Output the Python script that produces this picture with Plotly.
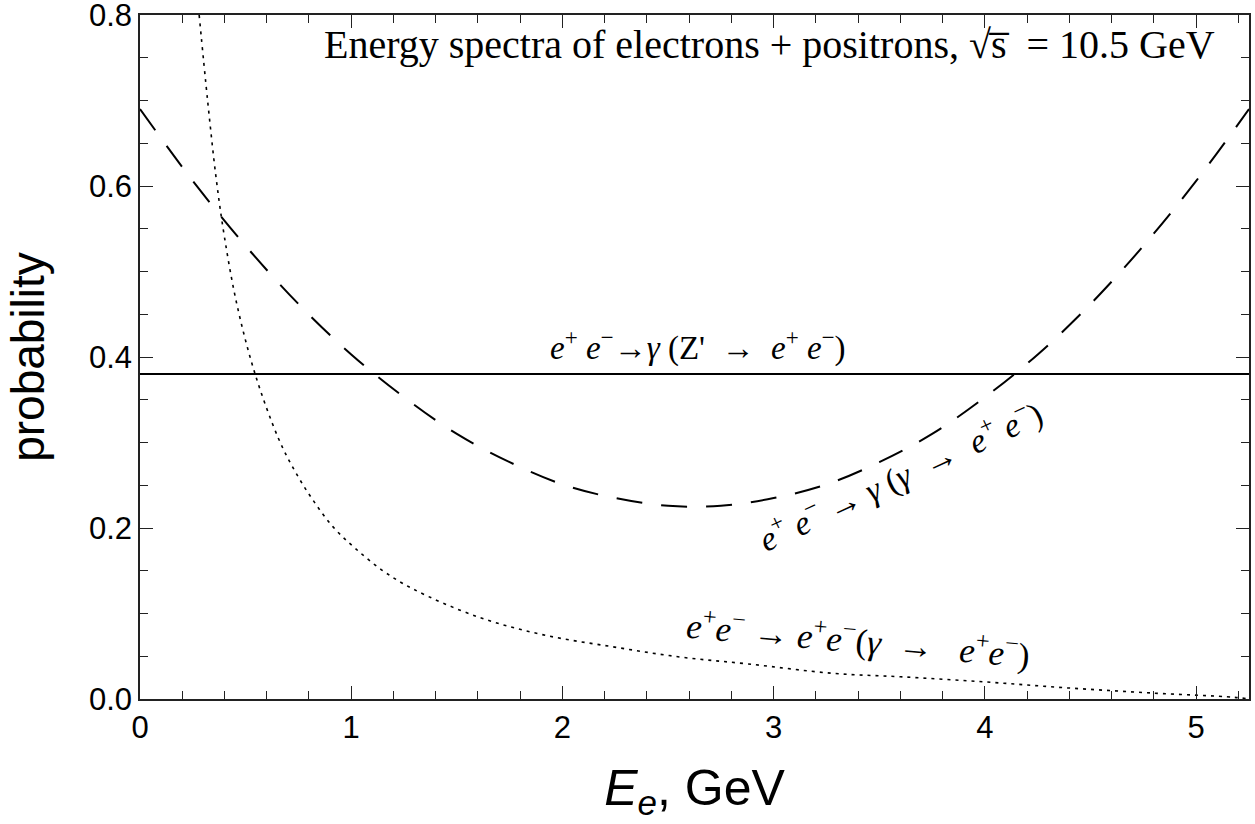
import plotly.graph_objects as go

# ---- data ----
x_dashed = [0.0, 0.25, 0.5, 0.75, 1.0, 1.25, 1.5, 1.75, 2.0, 2.25, 2.5, 2.75,
            3.0, 3.25, 3.5, 3.75, 4.0, 4.25, 4.5, 4.75, 5.0, 5.25]
y_dashed = [0.690, 0.606, 0.530, 0.462, 0.403, 0.353, 0.310, 0.277, 0.251, 0.235, 0.226, 0.226,
            0.235, 0.251, 0.277, 0.310, 0.353, 0.403, 0.462, 0.530, 0.606, 0.690]

x_dotted = [0.28, 0.32, 0.36, 0.40, 0.46, 0.545, 0.655, 0.73, 0.815, 0.915, 1.02, 1.15,
            1.29, 1.60, 1.91, 2.24, 2.56, 2.88, 3.28, 3.60, 4.0, 4.39, 4.79, 5.18, 5.25]
y_dotted = [0.80, 0.70, 0.61, 0.54, 0.46, 0.38, 0.305, 0.268, 0.234, 0.201, 0.176, 0.150,
            0.129, 0.096, 0.075, 0.061, 0.049, 0.041, 0.030, 0.026, 0.020, 0.013, 0.007, 0.002, 0.0]

x_solid = [0.0, 5.25]
y_solid = [0.38, 0.38]

x_ticks = [0, 1, 2, 3, 4, 5]
y_ticks = [0.0, 0.2, 0.4, 0.6, 0.8]

fig = go.Figure()
fig.add_trace(go.Scatter(x=x_solid, y=y_solid, mode="lines",
                         line=dict(color="black", width=2), showlegend=False))
fig.add_trace(go.Scatter(x=x_dashed, y=y_dashed, mode="lines",
                         line=dict(color="black", width=2, dash="26px,19px", shape="spline"),
                         showlegend=False))
fig.add_trace(go.Scatter(x=x_dotted, y=y_dotted, mode="lines",
                         line=dict(color="black", width=1.6, dash="3px,5px", shape="spline"),
                         showlegend=False))

serif = "Liberation Serif, Times New Roman, serif"
sans = "Liberation Sans, Arial, sans-serif"
ann = [
    dict(x=2.98, y=0.765, text="Energy spectra of electrons + positrons, √s\u0305  = 10.5 GeV",
         font=dict(family=serif, size=40, color="black"), textangle=0),
    dict(x=2.64, y=0.414,
         text="<i>e</i><sup>+</sup> <i>e</i><sup>−</sup>→<i>γ</i> (Z'  →  <i>e</i><sup>+</sup> <i>e</i><sup>−</sup>)",
         font=dict(family=serif, size=33, color="black"), textangle=0),
    dict(x=3.60, y=0.262,
         text="<i>e</i><sup>+</sup> <i>e</i><sup>−</sup> → <i>γ</i> (<i>γ</i>  →  <i>e</i><sup>+</sup> <i>e</i><sup>−</sup>)",
         font=dict(family=serif, size=34, color="black"), textangle=-25),
    dict(x=3.40, y=0.071,
         text="<i>e</i><sup>+</sup><i>e</i><sup>−</sup> → <i>e</i><sup>+</sup><i>e</i><sup>−</sup>(<i>γ</i>  →   <i>e</i><sup>+</sup><i>e</i><sup>−</sup>)",
         font=dict(family=serif, size=35, color="black"), textangle=5),
]
for a in ann:
    fig.add_annotation(xref="x", yref="y", showarrow=False, **a)

axis_common = dict(
    showgrid=False, zeroline=False, showline=True, linecolor="#222", linewidth=1.5,
    mirror="allticks", ticks="inside", ticklen=13, tickwidth=1.2, tickcolor="#222",
    tickfont=dict(family=sans, size=31, color="black"), ticklabeloverflow="allow",
    automargin=False,
)

fig.update_xaxes(range=[0, 5.25], tickvals=x_ticks, ticktext=[str(v) for v in x_ticks],
                 minor=dict(dtick=0.2, tick0=0, ticks="inside", ticklen=8, tickwidth=1.2, tickcolor="#222"),
                 title=dict(text="<i>E<sub>e</sub></i>, GeV",
                            font=dict(family=sans, size=50, color="black"),
                            standoff=26),
                 **axis_common)
fig.update_yaxes(range=[0, 0.8], tickvals=y_ticks, ticktext=[f"{v:.1f}" for v in y_ticks],
                 minor=dict(dtick=0.05, tick0=0, ticks="inside", ticklen=8, tickwidth=1.2, tickcolor="#222"),
                 title=dict(text="probability",
                            font=dict(family=sans, size=46, color="black"),
                            standoff=30),
                 **axis_common)

fig.update_layout(width=1255, height=824, margin=dict(l=140, r=6, t=15, b=125),
                  plot_bgcolor="white", paper_bgcolor="white")

# remove the page's default body margin so the figure fills the window
fig.write_html("out.html", config={"displayModeBar": False},
               post_script="document.body.style.margin='0';")
